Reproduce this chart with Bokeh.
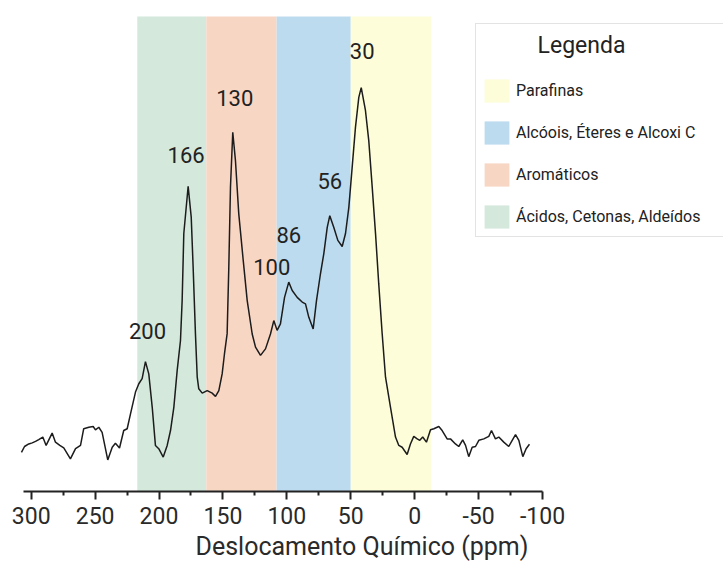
import numpy as np
from bokeh.plotting import figure
from bokeh.models import Range1d, FixedTicker, Legend, LegendItem, Label, ColumnDataSource
from bokeh.embed import file_html
from bokeh.resources import INLINE
from bokeh.core.properties import value

# 13C NMR spectrum: chemical shift (ppm) and relative intensity (tallest peak = 100)
ppm = [307.6, 305.2, 301.9, 299.2, 296.6, 294.1, 290.9, 288.3, 283.6, 281.0,
       277.6, 274.5, 269.3, 265.3, 261.4, 258.9, 254.9, 251.5, 249.7, 247.1,
       244.5, 240.1, 236.6, 234.1, 230.9, 227.6, 224.9, 222.3, 218.4, 215.8,
       213.2, 210.6, 208.0, 205.3, 202.8, 200.2, 196.7, 193.6, 191.0, 188.4,
       185.8, 183.2, 181.9, 180.6, 177.2, 174.8, 173.3, 171.5, 170.1, 168.9,
       166.2, 162.3, 158.4, 155.8, 153.2, 150.6, 148.8, 146.7, 145.4, 144.1,
       142.3, 140.2, 137.6, 134.1, 131.0, 127.1, 124.5, 120.6, 116.7, 112.8,
       110.2, 107.6, 105.0, 101.8, 98.5, 95.8, 91.9, 88.0, 85.4, 82.8,
       79.4, 76.8, 73.7, 71.1, 68.4, 66.4, 63.3, 60.1, 56.7, 54.1,
       51.5, 48.9, 46.3, 43.7, 41.8, 38.5, 35.9, 33.2, 30.6, 28.1,
       25.4, 22.8, 18.9, 15.0, 12.4, 9.8, 5.9, 3.3, 0.7, -2.0,
       -4.0, -6.3, -9.2, -12.4, -15.0, -18.9, -21.5, -25.4, -28.0, -31.9,
       -34.5, -37.6, -39.8, -42.3, -45.0, -47.6, -50.2, -54.1, -58.0, -60.1,
       -63.2, -65.8, -69.7, -73.6, -76.3, -78.9, -81.5, -84.6, -87.2, -89.8]
intensity = [-0.5, 1.1, 1.8, 2.1, 2.5, 3.0, 3.7, 1.4, 4.8, 2.3,
             1.4, 0.7, -2.3, 0.5, 1.4, 6.0, 6.4, 6.6, 5.7, 6.4,
             5.0, -2.6, 0.9, 2.0, 0.7, 5.5, 6.0, 10.1, 16.1, 18.4,
             19.8, 24.5, 21.1, 11.9, 1.4, 0.5, -1.8, 1.4, 5.5, 11.9,
             22.0, 30.3, 41.3, 59.8, 72.8, 64.3, 50.5, 32.2, 20.2, 17.0,
             15.8, 16.5, 15.8, 14.9, 16.5, 21.1, 26.6, 32.2, 50.5, 72.5,
             87.7, 79.9, 65.2, 52.3, 41.3, 32.1, 28.5, 26.2, 28.0, 32.1,
             35.8, 33.1, 34.9, 42.2, 46.4, 44.1, 42.2, 40.9, 40.4, 36.7,
             33.5, 41.3, 48.7, 54.2, 61.5, 64.7, 61.5, 57.9, 56.2, 59.8,
             67.0, 78.0, 89.1, 97.3, 100.0, 93.7, 85.4, 72.5, 59.7, 45.9,
             32.1, 20.2, 11.9, 3.7, 1.4, 0.9, -1.1, 1.8, 3.9, 3.2,
             2.8, 3.7, 2.3, 5.7, 6.0, 6.6, 5.5, 3.2, 3.2, 1.8,
             1.1, 2.9, 1.4, -1.7, 0.9, 1.1, 2.8, 3.2, 3.9, 5.5,
             3.2, 3.7, 2.3, 1.1, 2.8, 4.4, 2.8, -1.7, 0.5, 1.7]

# Chemical-shift regions
region_names = ["Ácidos, Cetonas, Aldeídos", "Aromáticos",
                "Alcóois, Éteres e Alcoxi C", "Parafinas"]
region_from = [217, 163, 108, 50]
region_to = [163, 108, 50, -13]
region_colors = ["#d4e8dc", "#f8d6c4", "#bddbee", "#fdfdd9"]

# Annotated peaks
peak_labels = ["200", "166", "130", "100", "86", "56", "30"]
peak_ppm = [210.6, 177.2, 142.3, 110.2, 98.5, 66.4, 41.8]

x_ticks = [300, 250, 200, 150, 100, 50, 0, -50, -100]
x_minor = [275, 225, 175, 125, 75, 25, -25, -75]

FONT = "Roboto"
Y_LOW, Y_HIGH = -11.3, 124.0
BAND_TOP = 119.6

p = figure(width=723, height=567,
           x_range=Range1d(324.0, -241.6), y_range=Range1d(Y_LOW, Y_HIGH),
           output_backend="svg", toolbar_location=None,
           y_axis_location=None,
           min_border_left=0, min_border_right=0,
           min_border_top=0, min_border_bottom=76)
p.outline_line_color = None
p.grid.visible = False
p.background_fill_color = "white"

band_renderers = []
for start, end, color in zip(region_from, region_to, region_colors):
    r = p.quad(left=start, right=end, bottom=Y_LOW, top=BAND_TOP,
               fill_color=color, line_color=None)
    band_renderers.append(r)

p.line(ppm, intensity, line_color="#1c1c1c", line_width=1.5)

# peak annotations placed above each maximum
peak_y = list(np.interp(peak_ppm, ppm[::-1], intensity[::-1]))
label_src = ColumnDataSource(dict(
    x=peak_ppm, y=peak_y, text=peak_labels,
    dy=[-31, -31, -34, -54, -47, -35, -37],
    dx=[2, -2, 2, -2, 0, 0, 1],
))
p.text(x="x", y="y", text="text", x_offset="dx", y_offset="dy", source=label_src,
       text_align="center", text_baseline="middle",
       text_font=value(FONT), text_font_size="22px", text_color="#222222")

ax = p.xaxis[0]
ax.ticker = FixedTicker(ticks=x_ticks, minor_ticks=x_minor)
ax.major_label_overrides = {t: str(t) for t in x_ticks}
ax.bounds = (-100, 306)
ax.axis_line_color = "#222222"
ax.axis_line_width = 2
ax.major_tick_line_color = "#222222"
ax.major_tick_line_width = 2
ax.minor_tick_line_color = "#222222"
ax.minor_tick_line_width = 2
ax.major_tick_in = 0
ax.major_tick_out = 8
ax.minor_tick_in = 0
ax.minor_tick_out = 4
ax.major_label_text_font = FONT
ax.major_label_text_font_size = "23px"
ax.major_label_text_color = "#2a2a2a"
ax.major_label_standoff = 7
ax.axis_label = "Deslocamento Químico (ppm)"
ax.axis_label_text_font = FONT
ax.axis_label_text_font_size = "25px"
ax.axis_label_text_font_style = "normal"
ax.axis_label_text_color = "#2a2a2a"
ax.axis_label_standoff = 5

# legend, listed from the highest field region downwards
order = [3, 2, 1, 0]
legend = Legend(
    items=[LegendItem(label=region_names[i], renderers=[band_renderers[i]]) for i in order],
    location=(475, 254),
    title=" ", title_text_font_size="25px", title_standoff=18,
    glyph_width=31, glyph_height=29, spacing=13, padding=5, margin=0,
    label_standoff=4, label_width=320,
    label_text_font=FONT, label_text_font_size="16px", label_text_color="#222222",
    border_line_color="#c8c8c8", border_line_width=1.5,
    background_fill_alpha=0.0,
)
p.add_layout(legend)
p.add_layout(Label(x=581, y=446, x_units="screen", y_units="screen",
                   text="Legenda", text_align="center", text_baseline="middle",
                   text_font=FONT, text_font_size="23px", text_color="#222222"))

open("out.html", "w").write(file_html(p, INLINE))
